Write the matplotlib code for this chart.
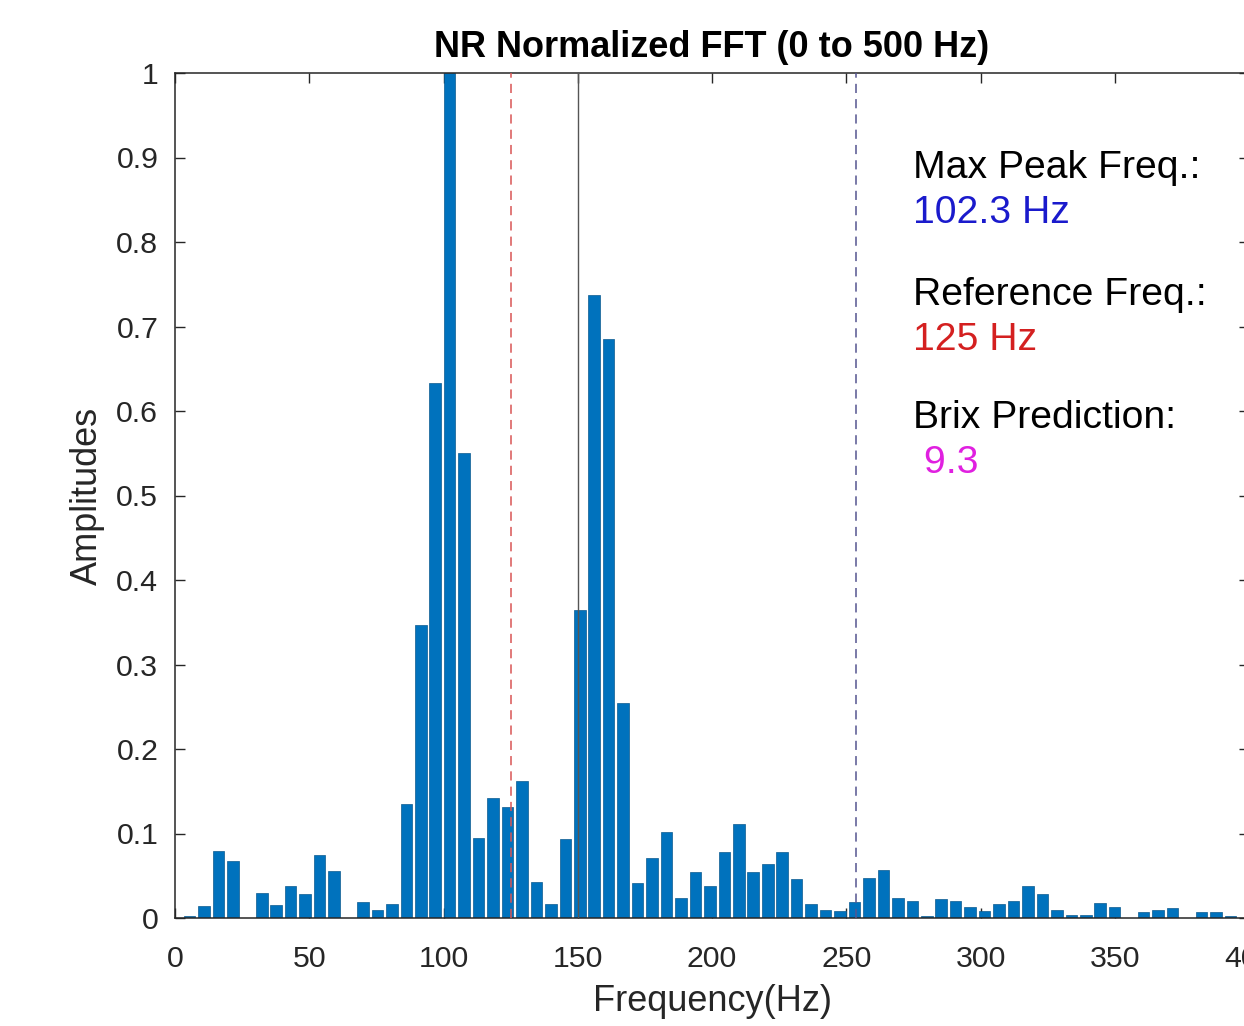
import numpy as np
import matplotlib
matplotlib.use("Agg")
import matplotlib.pyplot as plt

plt.rcParams['font.family'] = ['Liberation Sans', 'DejaVu Sans']

# ---- data ----
bin_resolution_hz = 102.3 / 19          # FFT bin spacing (peak bin 19 = 102.3 Hz)
amplitudes = [0.000, 0.002, 0.014, 0.079, 0.067, 0.000, 0.029, 0.015, 0.038, 0.028,
              0.074, 0.056, 0.000, 0.019, 0.010, 0.016, 0.135, 0.347, 0.633, 1.000,
              0.550, 0.095, 0.142, 0.131, 0.162, 0.043, 0.017, 0.093, 0.365, 0.737,
              0.685, 0.254, 0.041, 0.071, 0.102, 0.024, 0.055, 0.038, 0.078, 0.111,
              0.055, 0.064, 0.078, 0.046, 0.016, 0.010, 0.008, 0.019, 0.047, 0.057,
              0.024, 0.020, 0.002, 0.022, 0.020, 0.013, 0.008, 0.017, 0.020, 0.038,
              0.028, 0.010, 0.003, 0.003, 0.018, 0.013, 0.000, 0.007, 0.009, 0.012,
              0.000, 0.007, 0.007, 0.002]
freqs = np.arange(len(amplitudes)) * bin_resolution_hz

ref_freq = 125
center_line_freq = 150
upper_line_freq = 253.5

x_ticks = [0, 50, 100, 150, 200, 250, 300, 350, 400]
y_ticks = [0, 0.1, 0.2, 0.3, 0.4, 0.5, 0.6, 0.7, 0.8, 0.9, 1.0]
y_tick_labels = ['0', '0.1', '0.2', '0.3', '0.4', '0.5', '0.6', '0.7', '0.8', '0.9', '1']

annotations = [
    ("Max Peak Freq.:", 0.8754, 'black'),
    ("102.3 Hz", 0.8228, '#1a1acc'),
    ("Reference Freq.:", 0.7254, 'black'),
    ("125 Hz", 0.6722, '#d42020'),
    ("Brix Prediction:", 0.5795, 'black'),
    (" 9.3", 0.5263, '#e020e0'),
]
annot_x = 275

# ---- figure ----
W, H = 1244, 1026
fig = plt.figure(figsize=(W / 100, H / 100), dpi=100)
ax = fig.add_axes([175 / W, (H - 918) / H, (1249 - 175) / W, 845 / H])

ax.bar(freqs, amplitudes, width=bin_resolution_hz * 0.8, color='#0072BD',
       edgecolor='#0b5a8f', linewidth=0.5, zorder=2)

ax.axvline(ref_freq, color='#d85555', linestyle=(0, (6, 4)), linewidth=1.1, zorder=3)
ax.axvline(center_line_freq, color='#555555', linestyle='-', linewidth=1.0, zorder=3)
ax.axvline(upper_line_freq, color='#55558f', linestyle=(0, (6, 4)), linewidth=1.1, zorder=3)

for txt, yv, col in annotations:
    ax.text(annot_x, yv, txt, color=col, fontsize=28.2, ha='left', va='baseline')

ax.set_xlim(0, 400)
ax.set_ylim(0, 1)
ax.set_xticks(x_ticks)
ax.set_yticks(y_ticks)
ax.set_yticklabels(y_tick_labels)

ax.tick_params(direction='in', length=7.5, width=1.0, top=True, right=True,
               labelsize=21.8, colors='#262626')
ax.tick_params(axis='x', pad=19.5)
ax.tick_params(axis='y', pad=12)
for s in ax.spines.values():
    s.set_color('#262626')
    s.set_linewidth(1.1)

ax.set_title("NR Normalized FFT (0 to 500 Hz)", fontsize=26, fontweight='bold',
             color='black', pad=11.5)
ax.set_xlabel("Frequency(Hz)", fontsize=26, color='#262626', labelpad=8)
ax.set_ylabel("Amplitudes", fontsize=26, color='#262626', labelpad=8)

fig.savefig("out.png", dpi=100)
